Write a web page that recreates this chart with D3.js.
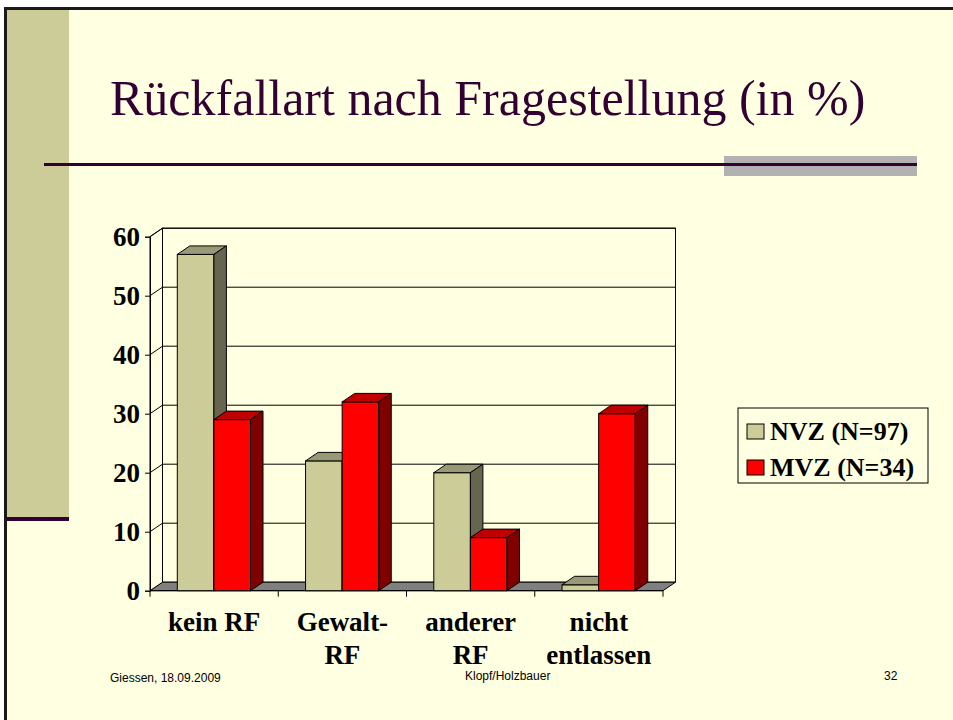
<!DOCTYPE html>
<html>
<head>
<meta charset="utf-8">
<script src="https://cdn.jsdelivr.net/npm/d3@7"></script>
<style>
  body { margin: 0; background: #fff; }
  svg { display: block; }
  .serif { font-family: "Liberation Serif", "Times New Roman", Times, "DejaVu Serif", serif; }
</style>
</head>
<body>
<svg width="953" height="720"></svg>
<script>
var categories = [["kein RF"], ["Gewalt-", "RF"], ["anderer", "RF"], ["nicht", "entlassen"]];
var seriesNames = ["NVZ (N=97)", "MVZ (N=34)"];
var nvzValues = [57, 22, 20, 1];
var mvzValues = [29, 32, 9, 30];
var yTicks = [0, 10, 20, 30, 40, 50, 60];

var svg = d3.select("svg");

// slide background
svg.append("rect").attr("x", 4).attr("y", 7).attr("width", 960).attr("height", 720)
   .attr("fill", "#ffffe1");
svg.append("rect").attr("x", 7).attr("y", 10).attr("width", 62).attr("height", 507)
   .attr("fill", "#cccc99");
svg.append("rect").attr("x", 5).attr("y", 517).attr("width", 64).attr("height", 4)
   .attr("fill", "#330033");
svg.append("line").attr("x1", 5.5).attr("y1", 7).attr("x2", 5.5).attr("y2", 720)
   .attr("stroke", "#1a1a1a").attr("stroke-width", 3);
svg.append("line").attr("x1", 4).attr("y1", 8.5).attr("x2", 953).attr("y2", 8.5)
   .attr("stroke", "#1a1a1a").attr("stroke-width", 3);

// title
svg.append("text")
   .attr("class", "serif")
   .attr("x", 110).attr("y", 115)
   .attr("font-size", "50px")
   .attr("fill", "#330033")
   .text("Rückfallart nach Fragestellung (in %)");
svg.append("rect").attr("x", 724).attr("y", 156).attr("width", 193).attr("height", 20)
   .attr("fill", "#b2b2b2");
svg.append("rect").attr("x", 44).attr("y", 163).attr("width", 873).attr("height", 3)
   .attr("fill", "#330033");

// footer
var foot = svg.append("g")
   .style("font-family", "'Liberation Sans', Arial, sans-serif")
   .attr("font-size", "12px").attr("fill", "#000");
foot.append("text").attr("x", 110).attr("y", 682).text("Giessen, 18.09.2009");
foot.append("text").attr("x", 465).attr("y", 680).text("Klopf/Holzbauer");
foot.append("text").attr("x", 884).attr("y", 680).text("32");

// chart
var dx = 12.5, dy = -8.5;
var xScale = d3.scaleBand().domain(d3.range(categories.length)).range([150, 663]);
var inner = d3.scaleBand().domain([0, 1]).range([27.3, 100.5]);
var yScale = d3.scaleLinear().domain([0, 60]).range([590.7, 236.7]);
var x0 = 150, x1 = 663, y0 = yScale(0), yTop = yScale(60);

var g = svg.append("g");

// back wall
g.append("rect").attr("x", x0 + dx).attr("y", yTop + dy)
 .attr("width", x1 - x0).attr("height", y0 - yTop)
 .attr("fill", "#ffffe1").attr("stroke", "#000").attr("stroke-width", 1);

// floor
g.append("polygon")
 .attr("points", [[x0, y0], [x1, y0], [x1 + dx, y0 + dy], [x0 + dx, y0 + dy]].join(" "))
 .attr("fill", "#808080").attr("stroke", "#000").attr("stroke-width", 1);

// side wall
g.append("polygon")
 .attr("points", [[x0, yTop], [x0 + dx, yTop + dy], [x0 + dx, y0 + dy], [x0, y0]].join(" "))
 .attr("fill", "#ffffe1").attr("stroke", "#000").attr("stroke-width", 1);

// gridlines
yTicks.filter(function(d) { return d > 0; }).forEach(function(v) {
  var y = yScale(v);
  g.append("polyline")
   .attr("points", [[x0, y], [x0 + dx, y + dy], [x1 + dx, y + dy]].join(" "))
   .attr("fill", "none").attr("stroke", "#000").attr("stroke-width", 1);
});

// axes
g.append("g")
 .attr("transform", "translate(" + x0 + ",0)")
 .call(d3.axisLeft(yScale).tickValues(yTicks).tickSize(5).tickPadding(5))
 .call(function(a) {
   a.attr("font-family", null);
   a.select(".domain").attr("stroke", "#000");
   a.selectAll("text")
    .attr("class", "serif")
    .attr("font-weight", "bold").attr("font-size", "27px").attr("fill", "#000");
 });

g.append("line").attr("x1", x0).attr("y1", y0).attr("x2", x1).attr("y2", y0)
 .attr("stroke", "#000");
xScale.domain().concat([categories.length]).forEach(function(i) {
  var x = i < categories.length ? xScale(i) : x1;
  g.append("line").attr("x1", x).attr("y1", y0).attr("x2", x).attr("y2", y0 + 6)
   .attr("stroke", "#000");
});

// bars
var colors = [
  { front: "#cccc99", top: "#999977", side: "#666650" },
  { front: "#ff0000", top: "#c00000", side: "#800000" }
];
var data = [];
categories.forEach(function(c, i) {
  data.push({ cat: i, s: 0, v: nvzValues[i] });
  data.push({ cat: i, s: 1, v: mvzValues[i] });
});

var bars = g.selectAll(".bar").data(data).enter().append("g").attr("class", "bar");
bars.each(function(d) {
  var b = d3.select(this);
  var bx = xScale(d.cat) + inner(d.s), bw = inner.bandwidth();
  var by = yScale(d.v);
  var c = colors[d.s];
  b.append("rect").attr("x", bx).attr("y", by).attr("width", bw).attr("height", y0 - by)
   .attr("fill", c.front).attr("stroke", "#000").attr("stroke-width", 1);
  b.append("polygon")
   .attr("points", [[bx, by], [bx + dx, by + dy], [bx + bw + dx, by + dy], [bx + bw, by]].join(" "))
   .attr("fill", c.top).attr("stroke", "#000").attr("stroke-width", 1);
  b.append("polygon")
   .attr("points", [[bx + bw, by], [bx + bw + dx, by + dy], [bx + bw + dx, y0 + dy], [bx + bw, y0]].join(" "))
   .attr("fill", c.side).attr("stroke", "#000").attr("stroke-width", 1);
});

// category labels
categories.forEach(function(lines, i) {
  var t = g.append("text")
   .attr("class", "serif")
   .attr("x", xScale(i) + xScale.bandwidth() / 2)
   .attr("y", 631)
   .attr("text-anchor", "middle")
   .attr("font-weight", "bold").attr("font-size", "27px").attr("fill", "#000");
  lines.forEach(function(l, j) {
    t.append("tspan").attr("x", xScale(i) + xScale.bandwidth() / 2)
     .attr("dy", j === 0 ? 0 : 33).text(l);
  });
});

// legend
var lg = svg.append("g");
lg.append("rect").attr("x", 738).attr("y", 408).attr("width", 190).attr("height", 75)
  .attr("fill", "#ffffe1").attr("stroke", "#000").attr("stroke-width", 1);
seriesNames.forEach(function(name, i) {
  var y = 424 + i * 36;
  lg.append("rect").attr("x", 747).attr("y", y).attr("width", 17).attr("height", 15)
    .attr("fill", colors[i].front).attr("stroke", "#000").attr("stroke-width", 1);
  lg.append("text").attr("class", "serif").attr("x", 770).attr("y", y + 16)
    .attr("font-weight", "bold").attr("font-size", "26px").attr("fill", "#000")
    .text(name);
});
</script>
</body>
</html>
